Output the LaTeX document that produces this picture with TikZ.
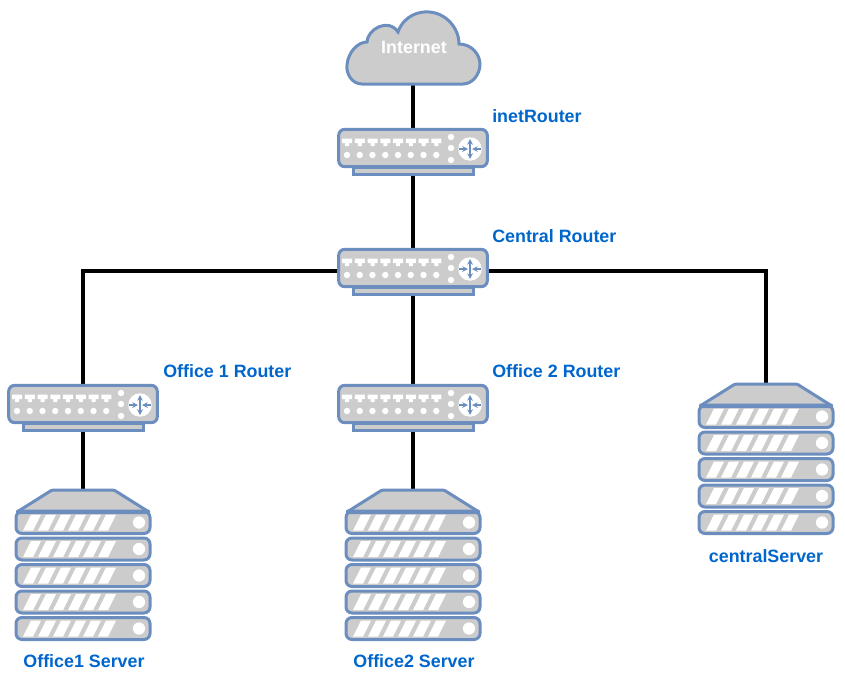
\documentclass[tikz,border=0pt]{standalone}
\usepackage{fontspec}
\setmainfont{Liberation Sans}
\usetikzlibrary{backgrounds}
\definecolor{devblue}{RGB}{108,142,191}
\definecolor{devgray}{RGB}{204,204,204}
\definecolor{labelblue}{RGB}{0,102,204}
\tikzset{
  devbox/.style={draw=devblue, fill=devgray, line width=2.25pt, rounded corners=4.5pt, inner sep=0pt},
  link/.style={line width=3pt, black},
  devlabel/.style={text=labelblue, font=\bfseries\fontsize{13.4}{16}\selectfont, inner sep=0pt},
  routerpic/.pic={
    \node[devbox, sharp corners, minimum width=90pt, minimum height=5pt] (-base) at (0,23) {};
    \node[devbox, minimum width=111.5pt, minimum height=28pt] (-body) at (0,0) {};
    \coordinate (-tap) at (0,3);
    \foreach \i in {0,...,7} {
      \fill[white] ({-66+12.75*\i-5},-9.5) -- ++(10,0) -- ++(0,4.5) -- ++(-3,0) -- ++(0,3) -- ++(-4,0) -- ++(0,-3) -- ++(-3,0) -- cycle;
      \fill[white] ({-66+12.75*\i},7) circle (2.4pt);
    }
    \foreach \j in {-11,0,12} \fill[white] (38,\j) circle (2.4pt);
    \fill[white] (57,1) circle (8.8pt);
    \draw[devblue, line width=0.9pt, <->] (57,-9) -- (57,11);
    \draw[devblue, line width=0.9pt, ->] (46,1) -- (55,1);
    \draw[devblue, line width=0.9pt, ->] (68,1) -- (59,1);
  },
  serverpic/.pic={
    \coordinate (-top) at (0,0);
    \draw[devbox, rounded corners=1pt, line join=round] (-31,0) -- (31,0) -- (66,22) -- (-66,22) -- cycle;
    \foreach \i in {0,...,4} {
      \node[devbox, minimum width=100.5pt, minimum height=16.5pt] (-unit\i) at (0,{32.5+26.5*\i}) {};
      \foreach \k in {0,...,5}
        \fill[white] ({-60+15*\k},{40.5+26.5*\i}) -- ++(10,0) -- ++(8,-16) -- ++(-10,0) -- cycle;
      \fill[white] (56,{32.5+26.5*\i}) circle (4.6pt);
    }
    \fill[devblue, rounded corners=1pt] (-67,19.5) rectangle (67,24);
  },
}
\begin{document}
\begin{tikzpicture}[x=0.75pt, y=-0.75pt, >=stealth]
  \useasboundingbox (0,0) rectangle (845,675);
  % cloud
  \draw[draw=devblue, fill=devgray, line width=2.25pt] (362,84)
    .. controls (352,84) and (346,74) .. (347,65)
    .. controls (348,52) and (358,42) .. (367,42)
    .. controls (367,30) and (388,17) .. (398,32)
    .. controls (404,15) and (420,11) .. (429,12)
    .. controls (446,13) and (459,28) .. (459,44)
    .. controls (472,44) and (480,55) .. (480,64)
    .. controls (480,75) and (472,84) .. (463,84) -- cycle;
  \coordinate (cloudbottom) at (413,84);
  \node[text=white, font=\bfseries\fontsize{13.4}{16}\selectfont, inner sep=0pt] (inet) at (414,47) {Internet};
  % routers
  \pic (inetrouter) at (413,148) {routerpic};
  \pic (centralrouter) at (413,268) {routerpic};
  \pic (office1router) at (83,404) {routerpic};
  \pic (office2router) at (413,404) {routerpic};
  % servers
  \pic (office1server) at (83,490) {serverpic};
  \pic (office2server) at (413,490) {serverpic};
  \pic (centralserver) at (766,384) {serverpic};
  % labels
  \node[devlabel, anchor=west] (inetlabel) at (492,116) {inetRouter};
  \node[devlabel, anchor=west] (centrallabel) at (492,236) {Central Router};
  \node[devlabel, anchor=west] (office1label) at (163,371) {Office 1 Router};
  \node[devlabel, anchor=west] (office2label) at (492,371) {Office 2 Router};
  \node[devlabel] (serverlabel) at (766,556) {centralServer};
  \node[devlabel] (server1label) at (84,661) {Office1 Server};
  \node[devlabel] (server2label) at (414,661) {Office2 Server};
  % links
  \begin{scope}[on background layer]
    \draw[link] (cloudbottom) -- (inetrouter-body);
    \draw[link] (inetrouter-base) -- (centralrouter-body);
    \draw[link] (centralrouter-base) -- (office2router-body);
    \draw[link] (centralrouter-tap) -| (office1router-body);
    \draw[link] (centralrouter-tap) -| (centralserver-top);
    \draw[link] (office1router-base) -- (office1server-top);
    \draw[link] (office2router-base) -- (office2server-top);
  \end{scope}
\end{tikzpicture}
\end{document}
